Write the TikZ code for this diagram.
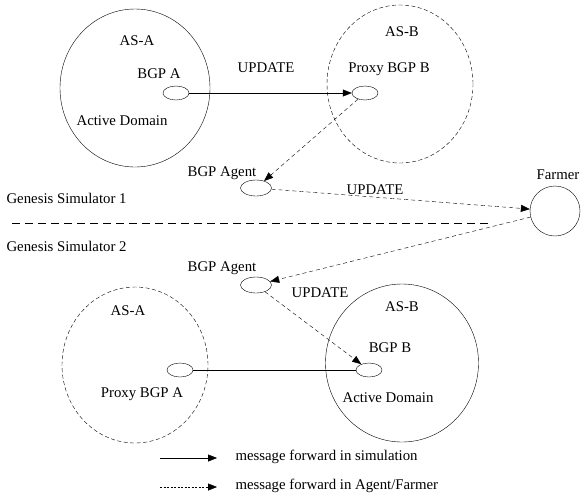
\documentclass[tikz,border=0pt]{standalone}
\usepackage{fontspec}
\setmainfont{Liberation Serif}
\usetikzlibrary{arrows.meta,positioning,shapes.geometric}

\begin{document}
\begin{tikzpicture}[
  x=1pt,y=-1pt,
  font=\fontsize{14.8}{16}\selectfont,
  dom/.style={ellipse,draw,minimum width=150pt,minimum height=158pt,inner sep=0pt},
  proxydom/.style={dom,dash pattern=on 4pt off 2.5pt},
  rtr/.style={ellipse,draw,minimum width=26pt,minimum height=14pt,inner sep=0pt},
  agent/.style={ellipse,draw,minimum width=31pt,minimum height=16pt,inner sep=0pt},
  msg/.style={-{Triangle[length=9pt,width=7pt]}},
  fwd/.style={-{Triangle[length=9pt,width=7pt]},dash pattern=on 4pt off 3pt}]
\useasboundingbox (0,0) rectangle (585,499);
% simulator 1
\node[dom] (asA1) at (135,88) {};
\node[proxydom,minimum width=146pt] (asB1) at (400,84) {};
\node at (137,41) {AS-A};
\node at (159,74) {BGP A};
\node at (122,121) {Active Domain};
\node at (402,32) {AS-B};
\node at (389,69) {Proxy BGP B};
\node at (266,68) {UPDATE};
\node[rtr] (bgpA) at (176,93) {};
\node[rtr] (pxB) at (365,93) {};
\node[agent] (ag1) at (256,188) {};
\node at (222,173) {BGP Agent};
% farmer
\node[circle,draw,minimum size=50pt,inner sep=0pt] (farmer) at (555,211) {};
\node at (558,175) {Farmer};
\node at (375,190) {UPDATE};
\node[anchor=west] at (3,198) {Genesis Simulator 1};
\node[anchor=west] at (3,246) {Genesis Simulator 2};
\draw[dash pattern=on 8pt off 5pt] (12,223) -- (488,223);
% simulator 2
\node[agent] (ag2) at (256,285) {};
\node at (222,268) {BGP Agent};
\node at (320,293) {UPDATE};
\node[proxydom,minimum width=146pt,minimum height=156pt] (asA2) at (135,365) {};
\node[dom,minimum width=153pt] (asB2) at (402,363) {};
\node at (128,311) {AS-A};
\node at (142,394) {Proxy BGP A};
\node at (402,307) {AS-B};
\node at (390,348) {BGP B};
\node at (388,398) {Active Domain};
\node[rtr] (pxA) at (180,370) {};
\node[rtr] (bgpB) at (369,370) {};
% messages
\draw[msg] (bgpA) -- (pxB);
\draw[fwd] (pxB) -- (ag1);
\draw[fwd] (ag1) -- (farmer);
\draw[fwd] (farmer) -- (ag2);
\draw[fwd] (ag2) -- (bgpB);
\draw (pxA) -- (bgpB);
% legend
\coordinate (l1a) at (160,458);
\coordinate (l1b) at (217,458);
\coordinate (l2a) at (160,487);
\coordinate (l2b) at (217,487);
\draw[msg] (l1a) -- (l1b);
\draw[-{Triangle[length=9pt,width=7pt]},dash pattern=on 2pt off 1.5pt] (l2a) -- (l2b);
\node[anchor=west] at (232,457) {message forward in simulation};
\node[anchor=west] at (232,486) {message forward in Agent/Farmer};
\end{tikzpicture}
\end{document}
